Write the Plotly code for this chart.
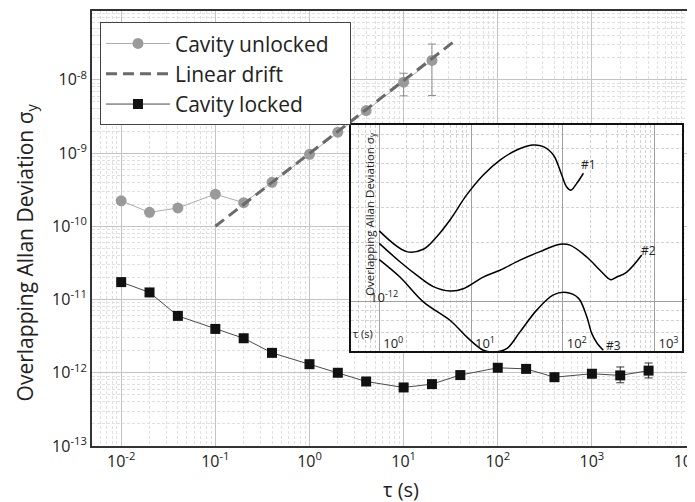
import plotly.graph_objects as go

# ---- main data ----
TAU_UNLOCKED = [0.01, 0.02, 0.04, 0.1, 0.2, 0.4, 1, 2, 4, 10, 20]
SIG_UNLOCKED = [2.23e-10, 1.55e-10, 1.78e-10, 2.75e-10, 2.1e-10, 3.98e-10, 9.6e-10, 1.93e-9, 3.8e-9, 9.3e-9, 1.84e-8]
ERR_UNLOCKED_PLUS = [0, 0, 0, 0, 0, 0, 0, 0, 0, 3.0e-9, 1.24e-8]
ERR_UNLOCKED_MINUS = [0, 0, 0, 0, 0, 0, 0, 0, 0, 3.25e-9, 1.23e-8]

TAU_DRIFT = [0.1, 37]
SIG_DRIFT = [1.0e-10, 3.6e-8]

TAU_LOCKED = [0.01, 0.02, 0.04, 0.1, 0.2, 0.4, 1, 2, 4, 10, 20, 40, 100, 200, 400, 1000, 2000, 4000]
SIG_LOCKED = [1.73e-11, 1.25e-11, 5.98e-12, 3.97e-12, 2.96e-12, 1.87e-12, 1.31e-12, 1.0e-12, 7.6e-13,
              6.3e-13, 7.0e-13, 9.3e-13, 1.17e-12, 1.13e-12, 8.7e-13, 9.7e-13, 9.2e-13, 1.07e-12]
ERR_LOCKED_PLUS = [0] * 16 + [2.8e-13, 2.9e-13]
ERR_LOCKED_MINUS = [0] * 16 + [1.9e-13, 2.2e-13]

# ---- inset data ----
TAU_1 = [1.0, 1.99, 3.02, 4.23, 5.9, 8.97, 13.6, 20.7, 31.5, 47, 61.5, 79.1, 97.5, 110, 123, 142, 168]
SIG_1 = [2.28e-12, 1.79e-12, 1.84e-12, 2.13e-12, 2.59e-12, 3.47e-12, 4.38e-12, 5.21e-12, 5.86e-12,
         6.21e-12, 6.10e-12, 5.53e-12, 4.38e-12, 3.82e-12, 3.67e-12, 3.97e-12, 4.47e-12]
TAU_2 = [1, 1.68, 2.56, 3.88, 5.9, 8.24, 13.6, 20.7, 34.2, 56.5, 93.5, 120, 183, 255, 333, 388, 499, 726]
SIG_2 = [1.97e-12, 1.59e-12, 1.36e-12, 1.19e-12, 1.13e-12, 1.16e-12, 1.33e-12, 1.44e-12, 1.62e-12,
         1.79e-12, 1.95e-12, 1.93e-12, 1.68e-12, 1.44e-12, 1.29e-12, 1.33e-12, 1.41e-12, 1.72e-12]
TAU_3 = [1, 1.68, 3.02, 5.9, 8.97, 13.6, 17.5, 24.5, 34.2, 52, 79.1, 110, 148, 183, 207, 238, 277]
SIG_3 = [1.63e-12, 1.33e-12, 9.95e-13, 8.03e-13, 6.61e-13, 5.66e-13, 5.55e-13, 5.77e-13, 7.01e-13,
         9.04e-13, 1.08e-12, 1.11e-12, 1.04e-12, 8.36e-13, 6.89e-13, 6.12e-13, 5.66e-13]

MAIN_XTICKS = [0.01, 0.1, 1, 10, 100, 1000, 10000]
MAIN_XTEXT = ["10<sup>-2</sup>", "10<sup>-1</sup>", "10<sup>0</sup>", "10<sup>1</sup>",
              "10<sup>2</sup>", "10<sup>3</sup>", "10<sup>4</sup>"]
MAIN_YTICKS = [1e-13, 1e-12, 1e-11, 1e-10, 1e-9, 1e-8]
MAIN_YTEXT = ["10<sup>-13</sup>", "10<sup>-12</sup>", "10<sup>-11</sup>", "10<sup>-10</sup>",
              "10<sup>-9</sup>", "10<sup>-8</sup>"]
INSET_XTICKS = [1, 10, 100, 1000]
INSET_XTEXT = ["10<sup>0</sup>", "10<sup>1</sup>", "10<sup>2</sup>", "10<sup>3</sup>"]
INSET_YLABEL = "10<sup>-12</sup>"

FONT = "Open Sans"
TXT = "#222222"
PAD = "\u00a0" * 3  # widens the legend box like the reference

fig = go.Figure()

fig.add_trace(go.Scatter(
    x=TAU_UNLOCKED, y=SIG_UNLOCKED, name="Cavity unlocked" + PAD, mode="lines+markers",
    line=dict(color="#ababab", width=1),
    marker=dict(color="#9a9a9a", size=11, symbol="circle"),
    error_y=dict(type="data", array=ERR_UNLOCKED_PLUS, arrayminus=ERR_UNLOCKED_MINUS,
                 color="#8a8a8a", thickness=1, width=4),
))
fig.add_trace(go.Scatter(
    x=TAU_DRIFT, y=SIG_DRIFT, name="Linear drift", mode="lines",
    line=dict(color="#6a6a6a", width=3, dash="11px,6px"),
))
fig.add_trace(go.Scatter(
    x=TAU_LOCKED, y=SIG_LOCKED, name="Cavity locked", mode="lines+markers",
    line=dict(color="#4a4a4a", width=1),
    marker=dict(color="#111111", size=10, symbol="square"),
    error_y=dict(type="data", array=ERR_LOCKED_PLUS, arrayminus=ERR_LOCKED_MINUS,
                 color="#333333", thickness=1, width=4),
))

for tx, sy in [(TAU_1, SIG_1), (TAU_2, SIG_2), (TAU_3, SIG_3)]:
    fig.add_trace(go.Scatter(
        x=tx, y=sy, xaxis="x2", yaxis="y2", mode="lines", showlegend=False,
        line=dict(color="#000000", width=1.5, shape="spline", smoothing=1.0),
        hoverinfo="skip",
    ))

grid_major = "#c4c4c4"
grid_minor = "#e0e0e0"

# the page body adds an 8px margin, so the figure is drawn 8px smaller and shifted
fig.update_layout(
    width=687, height=494,
    margin=dict(l=84, r=8, t=3, b=56),
    paper_bgcolor="white", plot_bgcolor="white",
    font=dict(family=FONT, color=TXT),
    showlegend=True,
    legend=dict(x=0.0134, y=0.974, xanchor="left", yanchor="top",
                bgcolor="white", bordercolor="#444444", borderwidth=1,
                font=dict(size=21, family=FONT, color=TXT), itemwidth=64,
                tracegroupgap=0),
    xaxis=dict(type="log", range=[-2.31, 4.01], tickmode="array",
               tickvals=MAIN_XTICKS, ticktext=MAIN_XTEXT, automargin=False,
               ticklabeloverflow="allow",
               showgrid=True, gridcolor=grid_major, gridwidth=1,
               minor=dict(dtick="D1", showgrid=True, gridcolor=grid_minor, griddash="3px,2px", gridwidth=1),
               showline=True, mirror=True, linecolor="#333333", linewidth=2,
               ticks="", tickfont=dict(size=16, family=FONT, color=TXT),
               zeroline=False),
    yaxis=dict(type="log", range=[-13, -7.06], tickmode="array",
               tickvals=MAIN_YTICKS, ticktext=MAIN_YTEXT, automargin=False,
               showgrid=True, gridcolor=grid_major, gridwidth=1,
               minor=dict(dtick="D1", showgrid=True, gridcolor=grid_minor, griddash="3px,2px", gridwidth=1),
               showline=True, mirror=True, linecolor="#333333", linewidth=2,
               ticks="", tickfont=dict(size=16, family=FONT, color=TXT),
               zeroline=False),
    xaxis2=dict(type="log", range=[-0.31, 3.30], domain=[0.435, 0.9916], anchor="y2",
                tickmode="array", tickvals=INSET_XTICKS, ticktext=INSET_XTEXT,
                ticklabelposition="inside", ticklabelshift=14, automargin=False,
                showgrid=True, gridcolor="#a0a0a0", gridwidth=1,
                minor=dict(dtick="D1", showgrid=True, gridcolor="#d2d2d2", griddash="3px,2px", gridwidth=1),
                showline=True, mirror=True, linecolor="#111111", linewidth=1.5,
                ticks="", tickfont=dict(size=13, family=FONT, color=TXT), zeroline=False),
    yaxis2=dict(type="log", range=[-12.252, -11.105], domain=[0.218, 0.738], anchor="x2",
                dtick=1, showticklabels=False, automargin=False,
                showgrid=True, gridcolor="#a0a0a0", gridwidth=1,
                minor=dict(dtick="D1", showgrid=True, gridcolor="#d2d2d2", griddash="3px,2px", gridwidth=1),
                showline=True, mirror=True, linecolor="#111111", linewidth=1.5,
                ticks="", zeroline=False),
    shapes=[dict(type="rect", xref="x2 domain", yref="y2 domain", x0=0, x1=1, y0=0, y1=1,
                 fillcolor="white", line=dict(width=0), layer="below")],
    annotations=[
        dict(text="Overlapping Allan Deviation σ<sub>y</sub>", xref="paper", yref="paper",
             x=-0.111, y=0.445, textangle=-90, showarrow=False, xanchor="center", yanchor="middle",
             font=dict(size=21, family=FONT, color=TXT)),
        dict(text="τ (s)", xref="paper", yref="paper", x=0.52, y=-0.099, showarrow=False,
             xanchor="center", yanchor="middle", font=dict(size=20, family=FONT, color=TXT)),
        dict(text="Overlapping Allan Deviation σ<sub>y</sub>", xref="x2 domain", yref="y2 domain",
             x=0.027, y=0.606, textangle=-90, showarrow=False,
             font=dict(size=11.5, family=FONT, color=TXT)),
        dict(text=INSET_YLABEL, xref="x2 domain", yref="y2", x=0.051, y=-12,
             xanchor="left", yanchor="middle", yshift=5, showarrow=False,
             font=dict(size=13, family=FONT, color=TXT)),
        dict(text="τ (s)", xref="x2 domain", yref="y2 domain", x=0.0, y=0.035,
             xanchor="left", showarrow=False, font=dict(size=11, family=FONT, color=TXT)),
        dict(text="#1", xref="x2", yref="y2", x=2.276, y=-11.305, showarrow=False,
             font=dict(size=12, family=FONT, color=TXT)),
        dict(text="#2", xref="x2", yref="y2", x=2.93, y=-11.74, showarrow=False,
             font=dict(size=12, family=FONT, color=TXT)),
        dict(text="#3", xref="x2", yref="y2", x=2.55, y=-12.222, showarrow=False,
             font=dict(size=12, family=FONT, color=TXT)),
    ],
)

fig.write_html("out.html")
